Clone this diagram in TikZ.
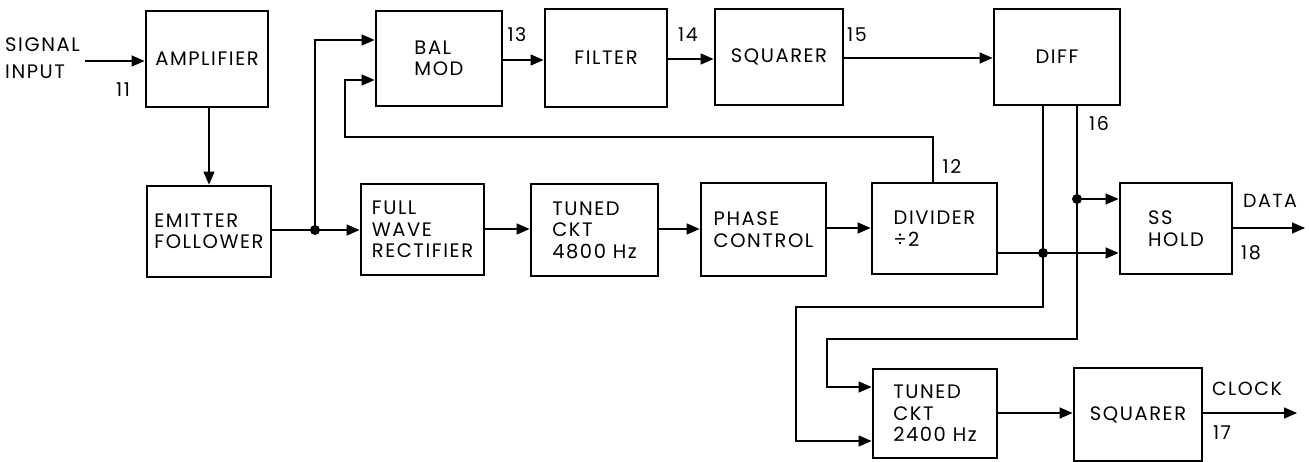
\documentclass[tikz,border=0pt]{standalone}
\usepackage{fontspec}
\setmainfont{Poppins}[LetterSpace=8]
\usetikzlibrary{arrows.meta,calc}
\begin{document}
\begin{tikzpicture}[x=1pt,y=-1pt,
  blk/.style={draw, line width=2.8pt, align=left, inner sep=0pt,
    font=\fontsize{19.5}{21.5}\selectfont},
  conn/.style={line width=1.3pt, -{Triangle[length=13pt,width=11pt]}},
  wire/.style={line width=1.3pt},
  jdot/.style={circle, fill, inner sep=0pt, minimum size=10pt},
  lbl/.style={inner sep=0pt, font=\fontsize{19}{21}\selectfont}
]
\fill[white] (0,0) rectangle (1309,462);
\useasboundingbox (0,0) rectangle (1309,462);

% blocks
\node[blk, minimum width=122pt, minimum height=96pt] (amp) at (207,59) {AMPLIFIER};
\node[blk, minimum width=126pt, minimum height=95pt] (balmod) at (439,58.5) {BAL\\MOD};
\node[blk, minimum width=122pt, minimum height=98pt] (filter) at (606,58) {FILTER};
\node[blk, minimum width=128pt, minimum height=96pt] (sqa) at (779,57) {SQUARER};
\node[blk, minimum width=126pt, minimum height=96pt] (diff) at (1057,57) {DIFF};
\node[blk, minimum width=124pt, minimum height=91pt] (ef) at (209,231.5) {EMITTER\\FOLLOWER};
\node[blk, minimum width=123pt, minimum height=91pt] (fwr) at (422.5,229.5) {FULL\\WAVE\\RECTIFIER};
\node[blk, minimum width=127pt, minimum height=92pt] (tuna) at (594.5,230) {TUNED\\CKT\\4800 Hz};
\node[blk, minimum width=125pt, minimum height=93pt] (phase) at (763.5,229.5) {PHASE\\CONTROL};
\node[blk, minimum width=125pt, minimum height=91pt] (div) at (934.5,228.5) {DIVIDER\\÷2};
\node[blk, minimum width=112pt, minimum height=91pt] (ss) at (1176,228.5) {SS\\HOLD};
\node[blk, minimum width=124pt, minimum height=89pt] (tunb) at (935,413.5) {TUNED\\CKT\\2400 Hz};
\node[blk, minimum width=128pt, minimum height=93pt] (sqb) at (1138,414.5) {SQUARER};

% input
\node[inner sep=0pt, anchor=west, align=left, font=\fontsize{19.5}{27}\selectfont] (sig) at (5,58.5) {SIGNAL\\INPUT};
\coordinate (sigin) at (85,61);
\draw[conn] (sigin) -- (sigin -| amp.west);
\draw[conn] (amp.south -| ef.north) -- (ef.north);

% emitter follower junction
\coordinate (j1) at (315,230);
\coordinate (bmtop) at (315,40);
\draw[wire] (ef.east |- j1) -- (j1);
\draw[conn] (j1) -- (j1 -| fwr.west);
\draw[conn] (j1) -- (bmtop) -- (bmtop -| balmod.west);
\node[jdot] (d1) at (j1) {};

% top row
\coordinate (ya) at (0,60);
\coordinate (yb) at (0,59);
\coordinate (yc) at (0,58);
\draw[conn] (balmod.east |- ya) -- (filter.west |- ya);
\draw[conn] (filter.east |- yb) -- (sqa.west |- yb);
\draw[conn] (sqa.east |- yc) -- (diff.west |- yc);

% middle row
\coordinate (yd) at (0,229);
\coordinate (ye) at (0,228);
\draw[conn] (fwr.east |- yd) -- (tuna.west |- yd);
\draw[conn] (tuna.east |- yd) -- (phase.west |- yd);
\draw[conn] (phase.east |- ye) -- (div.west |- ye);

% feedback divider -> bal mod
\coordinate (fbA) at (933,137);
\coordinate (fbB) at (345,137);
\coordinate (fbC) at (345,80);
\draw[conn] (fbA |- div.north) -- (fbA) -- (fbB) -- (fbC) -- (fbC -| balmod.west);

% diff outputs
\coordinate (dl) at (1043,307);
\coordinate (dlB) at (796,307);
\coordinate (dlC) at (796,441);
\draw[conn] (dl |- diff.south) -- (dl) -- (dlB) -- (dlC) -- (dlC -| tunb.west);
\coordinate (dr) at (1077,339);
\coordinate (drB) at (827,339);
\coordinate (drC) at (827,387);
\draw[conn] (dr |- diff.south) -- (dr) -- (drB) -- (drC) -- (drC -| tunb.west);

% SS hold inputs
\coordinate (j2) at (1043,253);
\coordinate (j3) at (1077,199);
\draw[conn] (div.east |- j2) -- (j2 -| ss.west);
\draw[conn] (j3) -- (j3 -| ss.west);
\node[jdot] (d2) at (j2) {};
\node[jdot] (d3) at (j3) {};

% outputs
\coordinate (dataend) at (1305,228);
\draw[conn] (ss.east |- dataend) -- (dataend);
\coordinate (yf) at (0,413);
\draw[conn] (tunb.east |- yf) -- (sqb.west |- yf);
\coordinate (clkend) at (1297,413);
\draw[conn] (sqb.east |- clkend) -- (clkend);

% labels
\node[lbl] (l11) at (123,90) {11};
\node[lbl] (l13) at (517,35) {13};
\node[lbl] (l14) at (688,35) {14};
\node[lbl] (l15) at (857,35) {15};
\node[lbl] (l12) at (952,167) {12};
\node[lbl] (l16) at (1099,124) {16};
\node[lbl] (l18) at (1251,253) {18};
\node[lbl] (l17) at (1222,433) {17};
\node[lbl] (ldata) at (1270,201) {DATA};
\node[lbl] (lclock) at (1247,389) {CLOCK};
\end{tikzpicture}
\end{document}
